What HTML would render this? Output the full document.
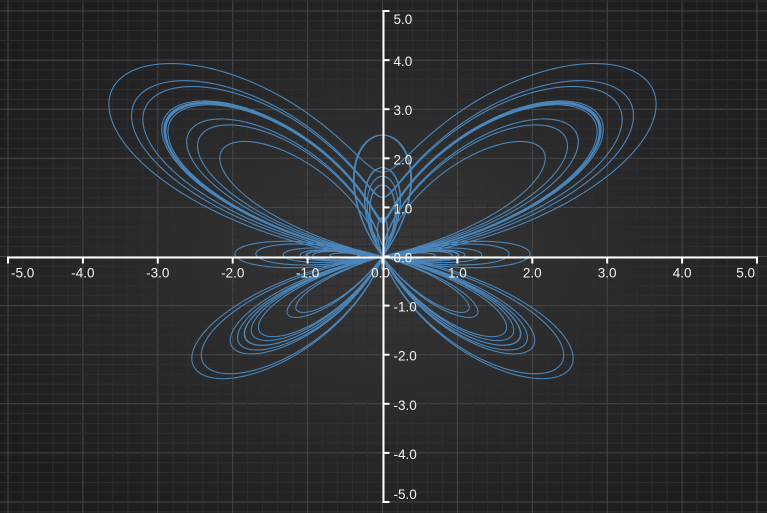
<!DOCTYPE html>
<html><head><meta charset="utf-8">
<style>
html,body{margin:0;padding:0;background:#1e1e1e;}
svg{display:block;}
text{font-family:"Liberation Sans",sans-serif;font-size:13.5px;fill:#f2f2f2;}
</style></head>
<body>
<svg id="chart" width="767" height="513" viewBox="0 0 767 513" xmlns="http://www.w3.org/2000/svg">
<defs>
<radialGradient id="bg" cx="50%" cy="50%" r="60%">
<stop offset="0" stop-color="#383839"/><stop offset="1" stop-color="#1d1d1f"/>
</radialGradient>
</defs>
<rect x="0" y="0" width="767" height="513" fill="url(#bg)"/>
<g id="grid"></g>
<path id="curve" fill="none" stroke="#4a86ba" stroke-width="1.1"/>
<g id="axes"></g>
</svg>
<script>
const xTicks=[-5,-4,-3,-2,-1,0,1,2,3,4,5];
const yTicks=[-5,-4,-3,-2,-1,0,1,2,3,4,5];
const tRange=[0,24*Math.PI];
const sampleCount=[12000];
const curveCoefs=[1,2,4,12,5]; // exp(cos t) weight, cos(4t) weight, 4t freq, t/12 divisor, power 5

const X0=382.5, XU=74.9, Y0=256.5, YU=49.1;
const sx=v=>X0+v*XU, sy=v=>Y0-v*YU;
const NS='http://www.w3.org/2000/svg';
const grid=document.getElementById('grid');
const axes=document.getElementById('axes');
function mk(tag,attrs,parent){const e=document.createElementNS(NS,tag);for(const k in attrs)e.setAttribute(k,attrs[k]);parent.appendChild(e);return e;}
for(let i=-55;i<=55;i++){const v=i/5;
  const x=sx(v); if(x>=0&&x<=767){const l=mk('line',{x1:x,x2:x,y1:0,y2:513,stroke:i%5===0?'#474749':'#2e2e30','stroke-width':1},grid);
  
  }
  const y=sy(v); if(y>=0&&y<=513){const l=mk('line',{x1:0,x2:767,y1:y,y2:y,stroke:i%5===0?'#474749':'#2e2e30','stroke-width':1},grid);
  
  }
}
const [a,b,f,d,p]=curveCoefs;let dstr='';
for(let i=0;i<=sampleCount[0];i++){const t=tRange[0]+(tRange[1]-tRange[0])*i/sampleCount[0];
  const r=a*Math.exp(Math.cos(t))-b*Math.cos(f*t)-Math.pow(Math.sin(t/d),p);
  const x=Math.sin(t)*r,y=Math.cos(t)*r;
  dstr+=(i?'L':'M')+sx(x).toFixed(2)+','+sy(y).toFixed(2);}
document.getElementById('curve').setAttribute('d',dstr);
const xa=mk('line',{x1:sx(-5),x2:sx(5),y1:Y0+1,y2:Y0+1,stroke:'#fff','stroke-width':2},axes);


const ya=mk('line',{x1:X0+1,x2:X0+1,y1:sy(5),y2:sy(-5),stroke:'#fff','stroke-width':2},axes);


xTicks.forEach(v=>{const x=sx(v);
  const tk=mk('line',{x1:x,x2:x,y1:Y0,y2:Y0+7,stroke:'#fff','stroke-width':2},axes);
  
  
  const anchor=v===xTicks[0]?'start':(v===xTicks[xTicks.length-1]?'end':'middle');
  const tx=mk('text',{x:v===0?x-2:x+(anchor==='start'?3:anchor==='end'?-2:0),y:Y0+21,'text-anchor':anchor},axes);tx.textContent=v.toFixed(1);
  
  });
yTicks.forEach(v=>{const y=sy(v);
  const tk=mk('line',{x1:X0,x2:X0+7,y1:y,y2:y,stroke:'#fff','stroke-width':2},axes);
  
  
  let ty=y+6;
  if(v===yTicks[yTicks.length-1])ty=y+13; if(v===yTicks[0])ty=y-3;
  const tx=mk('text',{x:X0+11,y:ty},axes);tx.textContent=v.toFixed(1);
  
  });
</script>
</body></html>
